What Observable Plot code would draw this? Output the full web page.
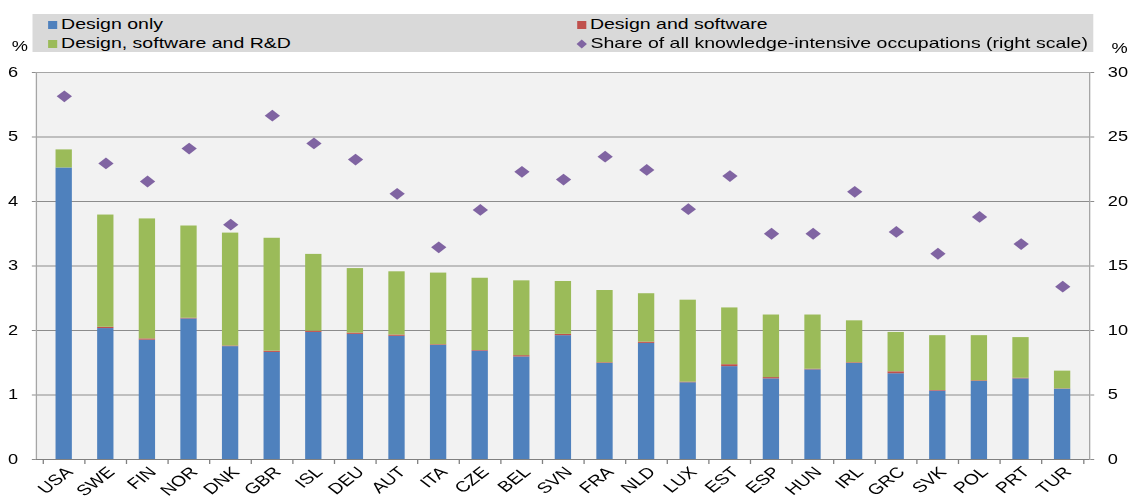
<!DOCTYPE html>
<html><head><meta charset="utf-8">
<script src="https://cdn.jsdelivr.net/npm/d3@7"></script>
<script src="https://cdn.jsdelivr.net/npm/@observablehq/plot@0.6"></script>
<style>
html,body{margin:0;padding:0;background:#fff;overflow:hidden}
#wrap{position:relative;width:868px;height:499px;transform:scaleX(1.3);transform-origin:0 0;font-family:"Liberation Sans",Arial,sans-serif;color:#000}
#legend{position:absolute;left:24.6px;top:14px;width:816px;height:38px;background:#d9d9d9}
.item{position:absolute;font-size:15px;line-height:17px;white-space:nowrap}
.sw{display:inline-block;width:7px;height:8px;margin-right:3px}
.pct{position:absolute;font-size:14px;line-height:16px}
#chart{position:absolute;left:0;top:0;width:868px}
</style></head>
<body>
<div id="wrap">
  <div id="legend"></div>
  <div class="pct" style="left:9px;top:38px">%</div>
  <div class="pct" style="left:855px;top:40px">%</div>
  <div id="chart"></div>
</div>
<script>
const countries = ["USA","SWE","FIN","NOR","DNK","GBR","ISL","DEU","AUT","ITA","CZE","BEL","SVN","FRA","NLD","LUX","EST","ESP","HUN","IRL","GRC","SVK","POL","PRT","TUR"];
const designOnly = [4.52,2.03,1.85,2.18,1.75,1.66,1.97,1.94,1.91,1.77,1.68,1.59,1.92,1.49,1.80,1.19,1.44,1.25,1.39,1.49,1.33,1.06,1.21,1.25,1.09];
const designSoftware = [0,0.02,0.02,0.01,0.01,0.02,0.02,0.02,0.02,0.01,0.01,0.02,0.02,0.01,0.02,0.01,0.03,0.02,0.01,0.01,0.03,0.01,0.01,0.01,0.005];
const designSoftwareRD = [0.28,1.74,1.86,1.43,1.75,1.75,1.19,1.00,0.98,1.11,1.12,1.16,0.82,1.12,0.75,1.27,0.88,0.97,0.84,0.65,0.61,0.85,0.70,0.63,0.275];
const knowledgeShare = [28.15,22.95,21.55,24.1,18.2,26.65,24.5,23.25,20.6,16.45,19.35,22.3,21.7,23.47,22.45,19.4,21.97,17.5,17.5,20.75,17.64,15.95,18.8,16.7,13.4];
const seriesNames = ["Design only","Design and software","Design, software and R&D"];
const seriesColors = ["#4f81bd","#c0504d","#9bbb59"];
const shareName = "Share of all knowledge-intensive occupations (right scale)";
const shareColor = "#8064a2";
const leftTicks = [0,1,2,3,4,5,6];
const rightTicks = [0,5,10,15,20,25,30];

const seriesValues = [designOnly, designSoftware, designSoftwareRD];
const stacked = [];
seriesNames.forEach((s, k) => countries.forEach((c, i) => stacked.push({country: c, series: s, value: seriesValues[k][i]})));
const points = countries.map((c, i) => ({country: c, share: knowledgeShare[i]}));

// legend
const legend = document.getElementById("legend");
const items = [
  {name: seriesNames[0], color: seriesColors[0], left: 12.4, top: 0.5},
  {name: seriesNames[1], color: seriesColors[1], left: 419.2, top: 0.5},
  {name: seriesNames[2], color: seriesColors[2], left: 12.4, top: 19.5},
  {name: shareName, color: shareColor, left: 418.6, top: 19.5, diamond: true}
];
for (const it of items) {
  const d = document.createElement("div");
  d.className = "item";
  d.style.left = it.left + "px";
  d.style.top = it.top + "px";
  const sw = it.diamond
    ? `<svg width="9" height="10" style="margin-right:2px;vertical-align:-1px"><polygon points="4.5,0.5 8.5,5 4.5,9.5 0.5,5" fill="${it.color}"/></svg>`
    : `<span class="sw" style="background:${it.color}"></span>`;
  d.innerHTML = sw + it.name.replace(/&/g, "&amp;");
  legend.appendChild(d);
}

const W = 868, H = 499, mL = 27.5, mR = 30.3, mT = 72, mB = 40;
const step = (W - mL - mR) / countries.length;
const barInset = step * 0.3;

const chart = Plot.plot({
  width: W, height: H, marginLeft: mL, marginRight: mR, marginTop: mT, marginBottom: mB,
  style: {fontFamily: "Liberation Sans, Arial, sans-serif", fontSize: "14px", color: "#000", background: "transparent", overflow: "visible", maxWidth: "none"},
  x: {domain: countries, padding: 0, axis: null},
  y: {domain: [0, 6], axis: null},
  color: {domain: seriesNames, range: seriesColors},
  marks: [
    Plot.frame({fill: "#f2f2f2"}),
    Plot.gridY({ticks: leftTicks, stroke: "#8c8c8c", strokeOpacity: 1}),
    Plot.barY(stacked, {x: "country", y: "value", fill: "series", insetLeft: barInset, insetRight: barInset}),
    Plot.dot(points, {x: "country", y: d => d.share / 5, symbol: "diamond2", r: 5.3, fill: shareColor, stroke: "none"}),
    Plot.frame({stroke: "#a6a6a6"}),
    Plot.axisY({ticks: leftTicks, anchor: "left", label: null, tickSize: 3, tickPadding: 11, stroke: "#8c8c8c", fontSize: 14, tickFormat: d => String(d)}),
    Plot.axisY({ticks: rightTicks.map(d => d / 5), anchor: "right", label: null, tickSize: 3, tickPadding: 11, stroke: "#8c8c8c", fontSize: 14, tickFormat: d => String(Math.round(d * 5))}),
    Plot.axisX({tickSize: 5, text: null, label: null, dx: -step / 2, stroke: "#808080"}),
    Plot.axisX({ticks: [countries[countries.length - 1]], tickSize: 5, text: null, label: null, dx: step / 2, stroke: "#808080"}),
    Plot.ruleY([0], {stroke: "#808080"}),
    Plot.axisX({tickSize: 0, tickRotate: -45, tickPadding: 10, label: null, fontSize: 15, dx: 4})
  ]
});
document.getElementById("chart").appendChild(chart);
</script>
</body></html>
